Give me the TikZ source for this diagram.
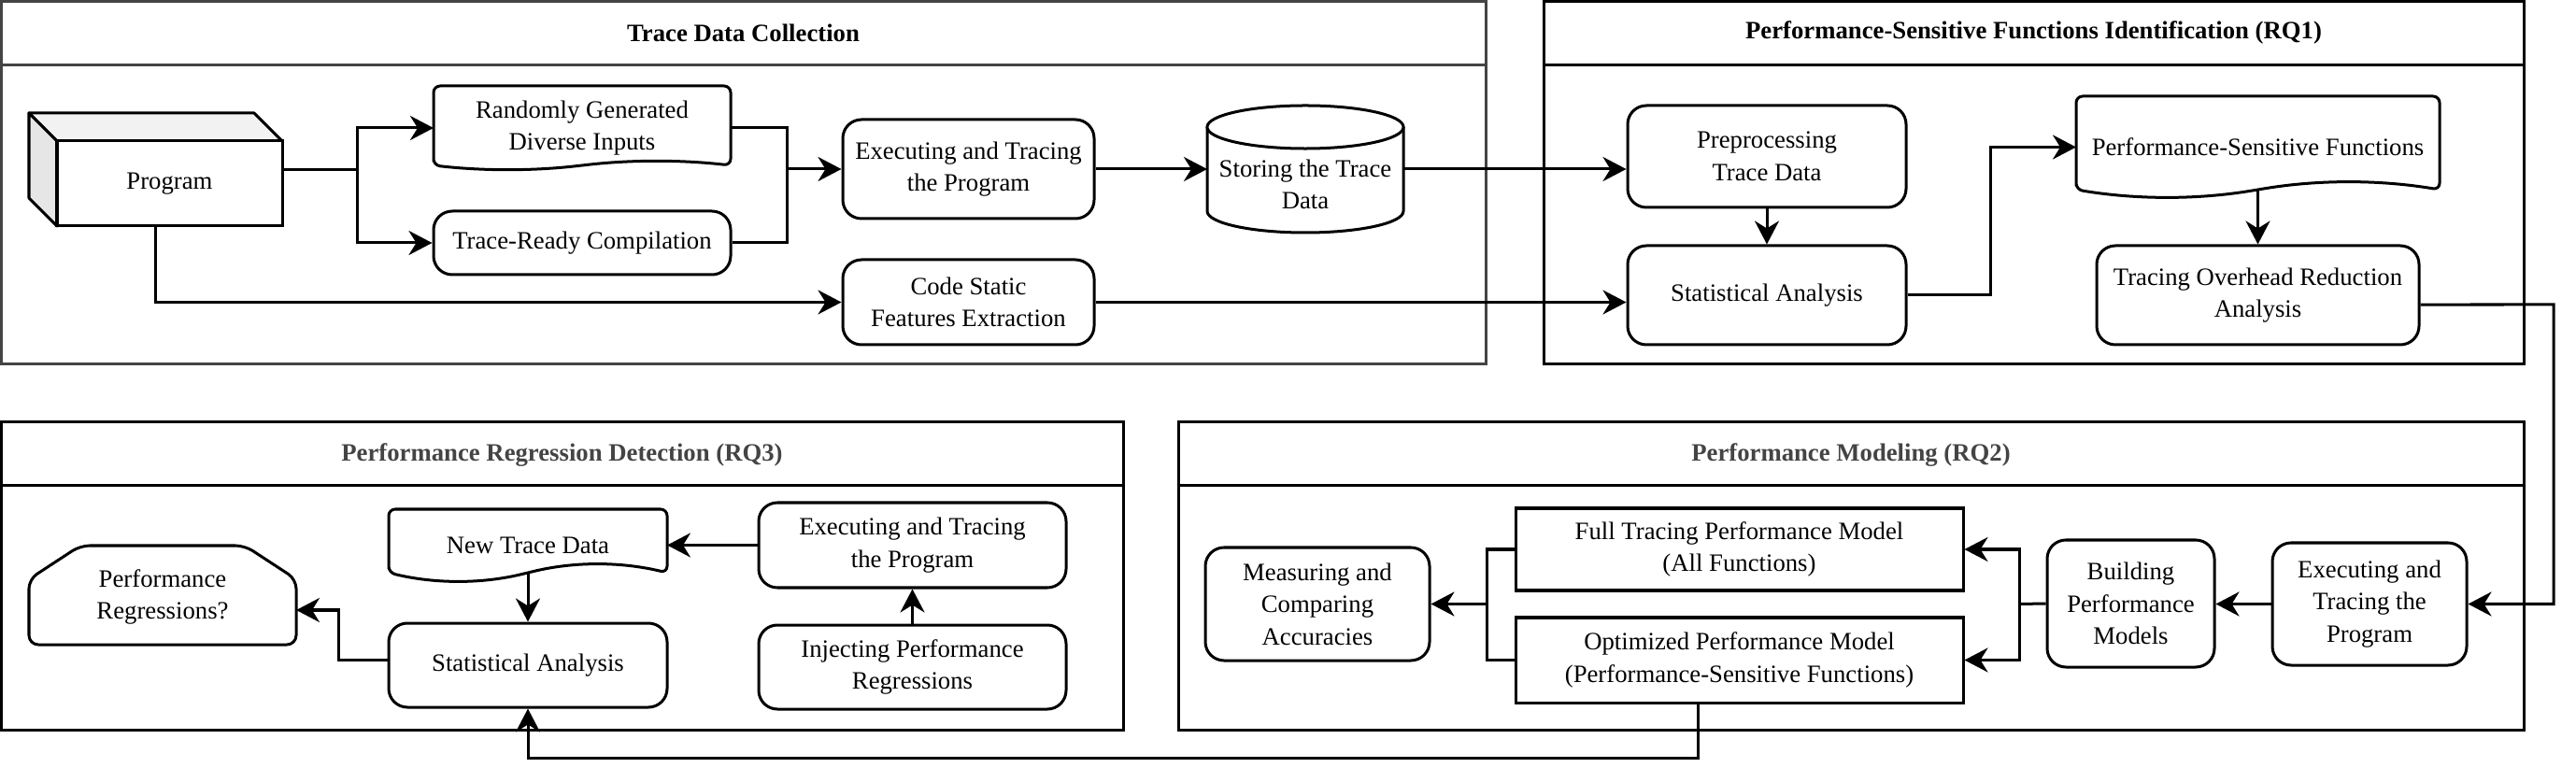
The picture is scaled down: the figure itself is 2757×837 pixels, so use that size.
\documentclass[tikz,border=0pt]{standalone}
\usepackage{fontspec}
\setmainfont{Liberation Serif}
\usetikzlibrary{arrows.meta,calc}
\definecolor{sidec}{HTML}{E6E6E6}
\definecolor{topc}{HTML}{F2F2F2}
\definecolor{dgray}{HTML}{444444}
\newcommand\docshape[5]{%
  \filldraw[lw, fill=white, rounded corners=0.07cm] ({#1},{#4-0.5*#5}) -- ({#1},{#2}) -- ({#3},{#2}) -- ({#3},{#4-0.5*#5})
   .. controls ({#3-(#3-#1)/6},{#4-1.1*#5}) and ({(#1+#3)/2+(#3-#1)/6},{#4-1.1*#5}) .. ({(#1+#3)/2},{#4-0.5*#5})
   .. controls ({(#1+#3)/2-(#3-#1)/6},{#4+0.1*#5}) and ({#1+(#3-#1)/6},{#4+0.1*#5}) .. cycle;}
\begin{document}
\begin{tikzpicture}[x=0.01cm,y=-0.01cm,
  font=\fontsize{7.6pt}{9.8pt}\selectfont,
  lw/.style={line width=0.03cm},
  wh/.style 2 args={minimum width=#1*0.01cm, minimum height=#2*0.01cm},
  rbox/.style={draw, lw, rounded corners=0.2cm, align=center, inner sep=0pt, fill=white},
  sbox/.style={draw, lw, align=center, inner sep=0pt, fill=white},
  ghost/.style={inner sep=0pt, outer sep=0pt, align=center},
  arr/.style={lw, -{Stealth[length=0.25cm,width=0.26cm,inset=0.08cm]}},
  ln/.style={lw},
  ptitle/.style={font=\fontsize{7.6pt}{9.8pt}\selectfont\bfseries}
]
\useasboundingbox (0,0) rectangle (2757,837);

% ---------- panels ----------
\draw[lw, dgray] (1.5,1.5) rectangle (1590,390);
\draw[lw, dgray] (1.5,70) -- (1590,70);
\node[ptitle] (t1) at (795.5,35) {Trace Data Collection};

\draw[lw] (1652,1.5) rectangle (2701,390);
\draw[lw] (1652,70) -- (2701,70);
\node[ptitle] (t2) at (2176.5,35) {Performance-Sensitive Functions Identification (RQ1)};

\draw[lw] (1.5,452) rectangle (1202,781);
\draw[lw] (1.5,520) -- (1202,520);
\node[ptitle, text=dgray] (t3) at (601.5,487) {Performance Regression Detection (RQ3)};

\draw[lw] (1261,452) rectangle (2701,781);
\draw[lw] (1261,520) -- (2701,520);
\node[ptitle, text=dgray] (t4) at (1981,487) {Performance Modeling (RQ2)};

% ---------- panel 1 ----------
\filldraw[lw, fill=topc, line join=round] (31,121) -- (272,121) -- (302,151) -- (61,151) -- cycle;
\filldraw[lw, fill=sidec, line join=round] (31,121) -- (61,151) -- (61,242) -- (31,212) -- cycle;
\filldraw[lw, fill=white] (61,151) rectangle (302,242);
\node[ghost, wh={271}{121}] (prog) at (166.5,181.5) {};
\node[ghost] (progt) at (181.5,196.5) {Program};

\docshape{464}{92}{782}{182}{10}
\node[ghost, wh={318}{90}] (rand) at (623,137) {Randomly Generated\\Diverse Inputs};
\node[rbox, wh={318}{68}] (trc) at (623,260) {Trace-Ready Compilation};
\node[rbox, wh={269}{106}] (exe1) at (1036.5,181) {Executing and Tracing\\the Program};
\node[rbox, wh={269}{91}] (code) at (1036.5,323.5) {Code Static\\Features Extraction};

\filldraw[lw, fill=white] (1292,136) -- (1292,226) .. controls (1292,238.7) and (1339,249) .. (1397,249)
  .. controls (1455,249) and (1502,238.7) .. (1502,226) -- (1502,136);
\filldraw[lw, fill=white] (1397,136) ellipse [x radius=1.05cm, y radius=0.23cm];
\node[ghost, wh={210}{136}] (store) at (1397,181) {};
\node[ghost] (storet) at (1397,197.5) {Storing the Trace\\Data};

% ---------- panel 2 ----------
\node[rbox, wh={298}{109}] (pre) at (1891,167.5) {Preprocessing\\Trace Data};
\node[rbox, wh={298}{106}] (sa1) at (1891,316) {Statistical Analysis};
\docshape{2222}{103}{2611}{212}{18}
\node[ghost, wh={389}{109}] (psf) at (2416.5,157.5) {Performance-Sensitive Functions};
\node[rbox, wh={345}{106}] (tor) at (2416.5,316) {Tracing Overhead Reduction\\Analysis};

% ---------- panel 3 ----------
\docshape{416}{545}{714}{623}{20}
\node[ghost, wh={298}{78}] (nt) at (565,584) {New Trace Data};
\node[rbox, wh={329}{91}] (exe3) at (976.5,583.5) {Executing and Tracing\\the Program};
\node[rbox, wh={329}{90}] (inj) at (976.5,714) {Injecting Performance\\Regressions};
\node[rbox, wh={298}{90}] (sa3) at (565,712) {Statistical Analysis};
\filldraw[lw, fill=white, rounded corners=0.1cm] (31,620) -- (86,584) -- (262,584) -- (317,620) -- (317,690) -- (31,690) -- cycle;
\node[ghost, wh={286}{106}] (pr) at (174,639) {Performance\\Regressions?};

% ---------- panel 4 ----------
\node[rbox, wh={208}{131}] (exe2) at (2536,646.5) {Executing and\\Tracing the\\Program};
\node[rbox, wh={179}{136}] (bpm) at (2280.5,646) {Building\\Performance\\Models};
\node[sbox, wh={479}{88}] (full) at (1861.5,588) {Full Tracing Performance Model\\(All Functions)};
\node[sbox, wh={479}{91}] (opt) at (1861.5,706.5) {Optimized Performance Model\\(Performance-Sensitive Functions)};
\node[rbox, wh={240}{121}] (meas) at (1410,646.5) {Measuring and\\Comparing\\Accuracies};

% ---------- connectors ----------
\coordinate (j1) at (382,181.5);
\draw[ln] (prog.east) -- (j1);
\draw[arr] (j1) |- (rand.west);
\draw[arr] (j1) |- (trc.west);
\coordinate (j2) at (842,181);
\draw[ln] (rand.east) -| (j2);
\draw[ln] (trc.east) -| (j2);
\draw[arr] (j2) -- (exe1.west);
\draw[arr] (prog.south) |- (code.west);
\draw[arr] (exe1.east) -- (store.west);
\draw[arr] (store.east) -- (store.east -| pre.west);
\draw[arr] (code.east) -- (code.east -| sa1.west);

\draw[arr] (pre.south) -- (sa1.north);
\coordinate (j3) at (2130,316);
\draw[arr] (sa1.east) -- (j3) |- (psf.west);
\draw[arr] ([yshift=0.09cm]psf.south) -- (tor.north);
\coordinate (j4) at (2733,326);
\draw[arr] ([yshift=-0.1cm]tor.east) -- (j4) |- (exe2.east);

\draw[arr] (exe2.west) -- (exe2.west -| bpm.east);
\coordinate (j5) at (2161,646.5);
\draw[ln] (bpm.west) -- (j5);
\draw[arr] (j5) |- (full.east);
\draw[arr] (j5) |- (opt.east);
\coordinate (j6) at (1591,646.5);
\draw[ln] (full.west) -| (j6);
\draw[ln] (opt.west) -| (j6);
\draw[arr] (j6) -- (meas.east);
\coordinate (j7) at (1817,811);
\draw[arr] (opt.south -| j7) -- (j7) -| (sa3.south);

\draw[arr] (exe3.west) -- (exe3.west -| nt.east);
\draw[arr] (inj.north) -- (exe3.south);
\draw[arr] ([yshift=0.1cm]nt.south) -- (sa3.north);
\coordinate (j8) at (362,653);
\draw[arr] ([yshift=0.05cm]sa3.west) -| (j8) -- (j8 -| pr.east);
\end{tikzpicture}
\end{document}
